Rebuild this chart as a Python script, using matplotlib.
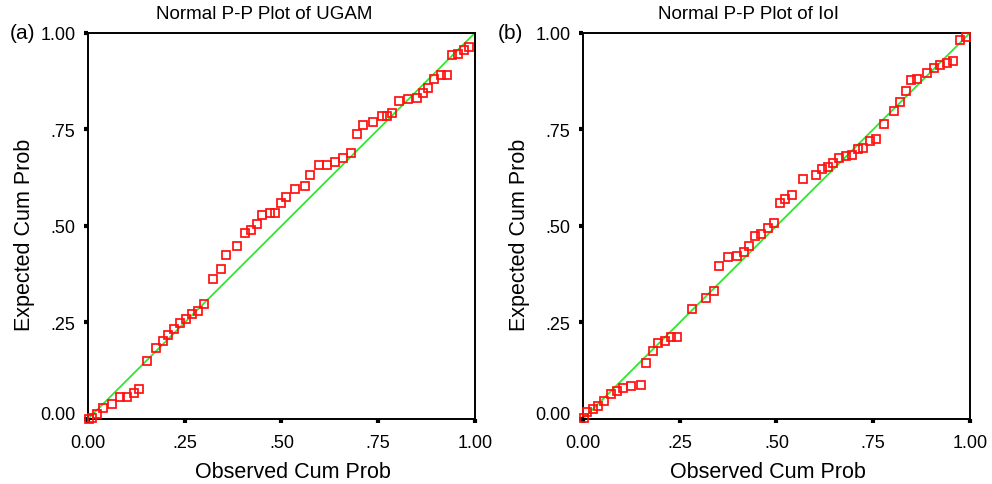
import numpy as np
import matplotlib
matplotlib.use("Agg")
import matplotlib.pyplot as plt
import matplotlib.transforms as mtransforms

plt.rcParams['font.family'] = ['Liberation Sans', 'DejaVu Sans']

# P-P plot of UGAM: observed vs expected cumulative probability
ugam_obs = [0.003, 0.010, 0.024, 0.040, 0.062, 0.084, 0.102, 0.118, 0.132, 0.153,
            0.176, 0.195, 0.208, 0.223, 0.238, 0.253, 0.268, 0.285, 0.300, 0.322,
            0.344, 0.358, 0.384, 0.405, 0.422, 0.437, 0.450, 0.470, 0.484, 0.498,
            0.513, 0.536, 0.561, 0.575, 0.597, 0.619, 0.638, 0.660, 0.681, 0.695,
            0.711, 0.737, 0.759, 0.773, 0.787, 0.803, 0.828, 0.851, 0.865, 0.879,
            0.895, 0.912, 0.927, 0.942, 0.957, 0.972, 0.985]
ugam_exp = [0.000, 0.003, 0.013, 0.028, 0.040, 0.058, 0.058, 0.067, 0.079, 0.150,
            0.183, 0.201, 0.218, 0.234, 0.249, 0.260, 0.271, 0.279, 0.297, 0.363,
            0.389, 0.426, 0.449, 0.482, 0.489, 0.504, 0.529, 0.534, 0.534, 0.560,
            0.574, 0.596, 0.603, 0.633, 0.658, 0.658, 0.666, 0.677, 0.689, 0.738,
            0.762, 0.769, 0.785, 0.786, 0.792, 0.824, 0.829, 0.832, 0.845, 0.858,
            0.880, 0.890, 0.890, 0.943, 0.946, 0.957, 0.963]

# P-P plot of IoI
ioi_obs = [0.003, 0.010, 0.025, 0.040, 0.055, 0.073, 0.088, 0.103, 0.124, 0.150,
           0.163, 0.180, 0.195, 0.212, 0.227, 0.243, 0.283, 0.319, 0.338, 0.352,
           0.375, 0.397, 0.415, 0.429, 0.445, 0.460, 0.477, 0.493, 0.508, 0.523,
           0.539, 0.569, 0.602, 0.618, 0.633, 0.647, 0.661, 0.679, 0.695, 0.710,
           0.725, 0.742, 0.757, 0.779, 0.804, 0.819, 0.834, 0.849, 0.863, 0.889,
           0.908, 0.924, 0.941, 0.957, 0.974, 0.989]
ioi_exp = [0.003, 0.019, 0.026, 0.033, 0.047, 0.065, 0.073, 0.080, 0.085, 0.088,
           0.146, 0.176, 0.198, 0.202, 0.212, 0.212, 0.286, 0.313, 0.331, 0.396,
           0.419, 0.422, 0.433, 0.449, 0.474, 0.478, 0.496, 0.508, 0.559, 0.570,
           0.581, 0.621, 0.633, 0.647, 0.653, 0.663, 0.677, 0.681, 0.685, 0.699,
           0.703, 0.721, 0.725, 0.765, 0.798, 0.820, 0.850, 0.878, 0.881, 0.896,
           0.908, 0.918, 0.923, 0.928, 0.982, 0.989]

ticks = [0, 0.25, 0.5, 0.75, 1.0]
tick_labels = ['0.00', '.25', '.50', '.75', '1.00']

# tag, title, data, axes left, title x, xlabel x, tag x (axes fractions)
panels = [
    ("(a)", "Normal P-P Plot of UGAM", ugam_obs, ugam_exp, 0.0887, 0.455, 0.53, -0.137),
    ("(b)", "Normal P-P Plot of IoI", ioi_obs, ioi_exp, 0.5877, 0.427, 0.477, -0.155),
]

fig = plt.figure(figsize=(9.92, 4.85), dpi=100)

for tag, title, obs, exp, left, tx, lx, gx in panels:
    ax = fig.add_axes([left, 0.134, 0.390, 0.796])
    ax.plot([0, 1], [0, 1], color='#2ee82e', lw=1.3, zorder=2)
    ax.plot(obs, exp, ls='none', marker='s', ms=5.2, mfc='none',
            mec='#ff1010', mew=1.25, clip_on=False, zorder=3)
    ax.set_xlim(0, 1)
    ax.set_ylim(0, 1)
    ax.set_xticks(ticks)
    ax.set_xticklabels(tick_labels)
    ax.set_yticks(ticks)
    ax.set_yticklabels(tick_labels)
    ax.tick_params(direction='out', length=3, width=3, labelsize=13)
    ax.tick_params(axis='x', pad=8)
    ax.tick_params(axis='y', pad=6)
    for s in ax.spines.values():
        s.set_linewidth(1.4)
    # SPSS nudges the bottom y label up so it clears the x labels
    lab0 = ax.get_yticklabels()[0]
    lab0.set_transform(lab0.get_transform() +
                       mtransforms.ScaledTranslation(0, 7 / 100, fig.dpi_scale_trans))
    ax.set_xlabel('Observed Cum Prob', fontsize=15.5, labelpad=7, x=lx)
    ax.set_ylabel('Expected Cum Prob', fontsize=15.5, labelpad=4, y=0.48)
    ax.text(tx, 1.05, title, transform=ax.transAxes, ha='center', va='center',
            fontsize=13.5)
    ax.text(gx, 1.0, tag, transform=ax.transAxes, ha='right', va='center',
            fontsize=15)

fig.savefig('out.png', dpi=100)
